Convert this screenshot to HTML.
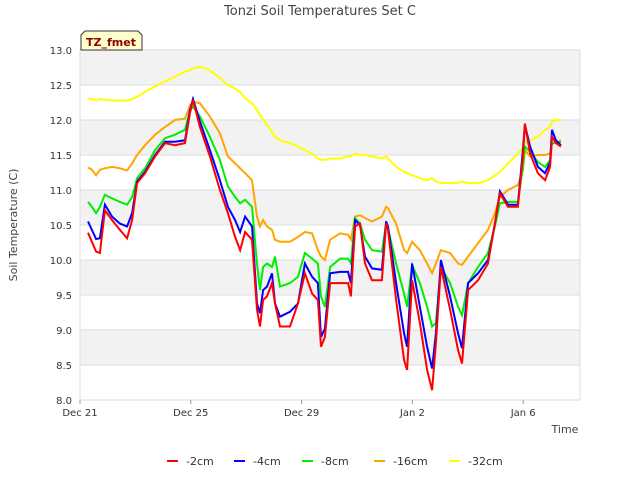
<!DOCTYPE html>
<html><head><meta charset="utf-8"><style>
body{margin:0;background:#fff;font-family:"Liberation Sans","DejaVu Sans",sans-serif}
svg text{font-family:"DejaVu Sans","Liberation Sans",sans-serif}
</style></head><body>
<svg id="chart" width="640" height="480" xmlns="http://www.w3.org/2000/svg">
<rect width="640" height="480" fill="#fff"/>
<text x="320" y="15" text-anchor="middle" font-size="13" fill="#444">Tonzi Soil Temperatures Set C</text>
<text transform="translate(17,225) rotate(-90)" text-anchor="middle" font-size="11" fill="#444">Soil Temperature (C)</text>
<text x="565" y="433" text-anchor="middle" font-size="11" fill="#444">Time</text>
<g id="bands"></g><g id="grid"></g><g id="ticks"></g><g id="series"></g>
<g>
<path d="M81,50 L81,35 L85,31 L138,31 L142,35 L142,50 Z" fill="#ffffcc" stroke="#333"/>
<text x="111" y="46" text-anchor="middle" font-size="11" font-weight="bold" fill="#8b0000">TZ_fmet</text>
</g>
<g id="legend"></g>
</svg>
<script>
const xTickLabels=["Dec 21","Dec 25","Dec 29","Jan 2","Jan 6"];
const xTickDays=[0,4,8,12,16];
const yTicks=[8.0,8.5,9.0,9.5,10.0,10.5,11.0,11.5,12.0,12.5,13.0];
const seriesNames=["-2cm","-4cm","-8cm","-16cm","-32cm"];
const seriesColors=["#ff0000","#0000ff","#00ee00","#ffa500","#ffff00"];
const days=[0.29,0.43,0.58,0.72,0.90,1.16,1.44,1.70,1.88,2.06,2.35,2.71,3.07,3.43,3.79,3.97,4.08,4.33,4.69,5.05,5.34,5.60,5.78,5.96,6.21,6.39,6.50,6.61,6.75,6.93,7.04,7.22,7.58,7.87,8.12,8.38,8.59,8.70,8.84,9.03,9.39,9.68,9.78,9.93,10.11,10.29,10.54,10.90,11.05,11.12,11.41,11.70,11.81,11.99,12.27,12.53,12.71,12.85,13.03,13.36,13.65,13.79,14.01,14.37,14.73,14.98,15.16,15.45,15.81,15.99,16.06,16.25,16.53,16.79,16.97,17.04,17.18,17.36];
const t2cm=[10.39,10.26,10.12,10.1,10.71,10.57,10.43,10.31,10.57,11.1,11.24,11.48,11.67,11.64,11.67,12.1,12.29,11.9,11.48,11.0,10.67,10.33,10.14,10.4,10.29,9.29,9.05,9.43,9.48,9.67,9.38,9.05,9.05,9.38,9.81,9.52,9.43,8.76,8.9,9.67,9.67,9.67,9.48,10.48,10.52,9.95,9.71,9.71,10.52,10.43,9.43,8.57,8.43,9.71,9.1,8.43,8.14,8.81,9.9,9.29,8.71,8.52,9.57,9.71,9.95,10.52,10.95,10.76,10.76,11.48,11.95,11.52,11.24,11.14,11.33,11.76,11.67,11.62];
const t4cm=[10.55,10.43,10.3,10.31,10.79,10.62,10.52,10.48,10.67,11.12,11.26,11.5,11.69,11.69,11.71,12.14,12.3,11.98,11.57,11.14,10.76,10.57,10.4,10.62,10.48,9.38,9.24,9.57,9.62,9.81,9.38,9.19,9.26,9.38,9.95,9.76,9.67,8.9,9.02,9.81,9.83,9.83,9.67,10.57,10.5,10.05,9.88,9.86,10.55,10.48,9.67,8.95,8.76,9.95,9.33,8.76,8.45,8.95,10.0,9.48,8.95,8.74,9.67,9.81,10.0,10.52,10.98,10.79,10.79,11.57,11.93,11.62,11.33,11.24,11.4,11.86,11.71,11.64];
const t8cm=[10.83,10.76,10.67,10.76,10.93,10.88,10.83,10.79,10.9,11.17,11.31,11.57,11.74,11.79,11.86,12.14,12.19,12.05,11.76,11.43,11.05,10.9,10.81,10.86,10.76,9.95,9.57,9.9,9.95,9.9,10.05,9.62,9.67,9.76,10.1,10.02,9.95,9.48,9.33,9.9,10.02,10.02,9.95,10.6,10.52,10.29,10.14,10.12,10.52,10.45,9.95,9.52,9.33,9.93,9.67,9.33,9.05,9.1,9.9,9.67,9.33,9.21,9.67,9.9,10.1,10.48,10.81,10.83,10.83,11.33,11.62,11.55,11.4,11.33,11.43,11.67,11.67,11.69];
const t16cm=[11.32,11.29,11.21,11.29,11.31,11.33,11.31,11.28,11.38,11.5,11.64,11.79,11.9,12.0,12.02,12.21,12.26,12.24,12.05,11.81,11.48,11.38,11.31,11.24,11.14,10.62,10.48,10.57,10.48,10.43,10.29,10.26,10.26,10.33,10.4,10.38,10.14,10.05,10.0,10.29,10.38,10.36,10.29,10.62,10.64,10.6,10.55,10.62,10.76,10.74,10.52,10.14,10.1,10.26,10.14,9.95,9.81,9.95,10.14,10.1,9.95,9.93,10.05,10.24,10.43,10.67,10.9,11.0,11.07,11.29,11.57,11.48,11.5,11.5,11.52,11.67,11.67,11.71];
const t32cm=[12.31,12.3,12.28,12.3,12.29,12.28,12.28,12.28,12.3,12.33,12.4,12.48,12.55,12.62,12.69,12.71,12.74,12.76,12.71,12.6,12.5,12.45,12.4,12.31,12.24,12.14,12.07,12.0,11.93,11.83,11.76,11.71,11.67,11.62,11.57,11.52,11.45,11.43,11.43,11.45,11.45,11.48,11.48,11.52,11.5,11.5,11.48,11.45,11.48,11.45,11.33,11.26,11.24,11.21,11.17,11.14,11.17,11.12,11.1,11.1,11.1,11.12,11.1,11.1,11.14,11.21,11.26,11.38,11.52,11.6,11.67,11.71,11.76,11.86,11.9,11.98,12.0,12.0];
const allSeries=[t2cm,t4cm,t8cm,t16cm,t32cm];

const NS="http://www.w3.org/2000/svg";
const L=80,R=580,T=50,B=400;
const xS=d=>L+d*27.7;
const yS=v=>B-(v-8)*(B-T)/5;
function mk(tag,parent){const e=document.createElementNS(NS,tag);document.getElementById(parent).appendChild(e);return e;}
for(let i=0;i<yTicks.length-1;i++){
  if(i%2===1){const r=mk('rect','bands');
  
  
  r.setAttribute('x',L);r.setAttribute('width',R-L);r.setAttribute('y',yS(yTicks[i+1]));r.setAttribute('height',yS(yTicks[i])-yS(yTicks[i+1]));r.setAttribute('fill','#f2f2f2');}
}
yTicks.forEach(v=>{
  const l=mk('line','grid');
  
  
  l.setAttribute('x1',L);l.setAttribute('x2',R);l.setAttribute('y1',yS(v));l.setAttribute('y2',yS(v));l.setAttribute('stroke','#dddddd');
  const t=mk('text','ticks');
  
  
  t.setAttribute('x',L-8);t.setAttribute('y',yS(v)+4);t.setAttribute('text-anchor','end');t.setAttribute('font-size','10');t.setAttribute('fill','#333');t.textContent=v.toFixed(1);
});
const ax=mk('path','grid');


ax.setAttribute('d',`M${L},${T}V${B}H${R}V${T}`);ax.setAttribute('fill','none');ax.setAttribute('stroke','#dddddd');
xTickDays.forEach((d,i)=>{
  const l=mk('line','ticks');
  
  
  l.setAttribute('x1',xS(d));l.setAttribute('x2',xS(d));l.setAttribute('y1',B);l.setAttribute('y2',B+4);l.setAttribute('stroke','#999');
  const t=mk('text','ticks');
  
  
  t.setAttribute('x',xS(d));t.setAttribute('y',B+16);t.setAttribute('text-anchor','middle');t.setAttribute('font-size','10');t.setAttribute('fill','#333');t.textContent=xTickLabels[i];
});
[4,3,2,1,0].forEach(s=>{
  const p=mk('path','series');
  
  
  p.setAttribute('d',allSeries[s].map((v,i)=>(i?'L':'M')+xS(days[i]).toFixed(1)+','+yS(v).toFixed(1)).join(''));
  p.setAttribute('fill','none');p.setAttribute('stroke',seriesColors[s]);p.setAttribute('stroke-width','2');
});
const legX=[167,234,302,374,449];
seriesNames.forEach((n,i)=>{
  const g=mk('g','legend');
  
  
  const l=document.createElementNS(NS,'line');g.appendChild(l);
  l.setAttribute('x1',legX[i]);l.setAttribute('x2',legX[i]+11);l.setAttribute('y1',461);l.setAttribute('y2',461);l.setAttribute('stroke',seriesColors[i]);l.setAttribute('stroke-width','2');
  const t=document.createElementNS(NS,'text');g.appendChild(t);
  t.setAttribute('x',legX[i]+19);t.setAttribute('y',465);t.setAttribute('font-size','11');t.setAttribute('fill','#333');t.textContent=n;
});
</script>
</body></html>
